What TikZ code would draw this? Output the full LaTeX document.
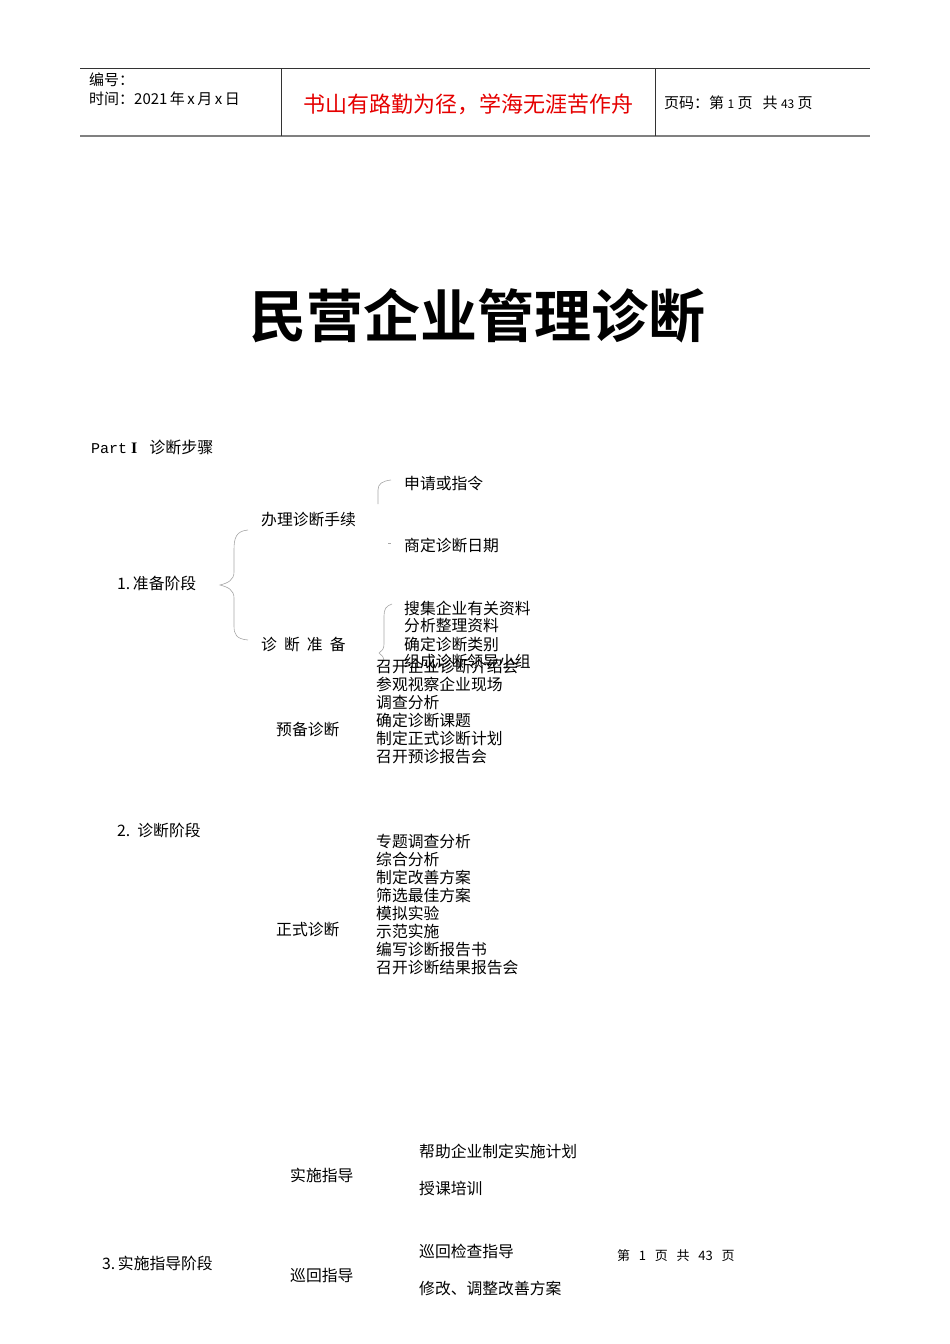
\documentclass[tikz,border=0pt]{standalone}
\usepackage{fontspec}
\setmainfont{Liberation Serif}
\newfontfamily\cjk{Noto Sans CJK SC}
\newfontfamily\cjkbold{Noto Sans CJK SC Bold}
\newfontfamily\latinmono{Liberation Mono}
\begin{document}
\begin{tikzpicture}[
		x=1pt, y=-1pt,
		every node/.style={inner sep=0pt, anchor=west},
		head/.style={font=\cjk\fontsize{15}{15}\selectfont},
		item/.style={font=\cjk\fontsize{15.8}{18}\selectfont},
		stage/.style={font=\cjk\fontsize{15.8}{18}\selectfont},
		bracket/.style={draw=gray!70, line width=0.6pt},
		rule/.style={draw=black!80, line width=0.8pt}
		]
		
		\useasboundingbox (0,0) rectangle (950,1344);
		
		% header
		\coordinate (hTL) at (80,68);
		\coordinate (hTR) at (870,68);
		\coordinate (hBL) at (80,136);
		\coordinate (hBR) at (870,136);
		\draw[rule] (hTL) -- (hTR);
		\draw[draw=gray, line width=1.6pt] (hBL) -- (hBR);
		\draw[rule] (281,68) -- (281,136);
		\draw[rule] (655,68) -- (655,136);
		\node[head] (code) at (89,80) {编号：};
		\node[head] (date) at (89,99) {时间：2021\,年\,x\,月\,x\,日};
		\node[font=\cjk\fontsize{22}{22}\selectfont, text=red!90!black, anchor=center] (motto) at (468,104) {书山有路勤为径，学海无涯苦作舟};
		\node[head] (pageno) at (664,103) {页码：第\ {\fontsize{12}{12}\selectfont 1}\ 页\ \ \ 共\ {\fontsize{12}{12}\selectfont 43}\ 页};
		
		% title
		\node[font=\cjkbold\fontsize{57}{57}\selectfont, anchor=center] (title) at (477,316) {民营企业管理诊断};
		
		\node[font=\fontsize{16}{18}\selectfont] (part) at (91,447) {{\latinmono\fontsize{15}{18}\selectfont Part}\ \textbf{I}\ \ \ {\cjk 诊断步骤}};
		
		% stage 1
		\node[stage] (s1) at (117,583) {1.\,{\cjk 准备阶段}};
		\node[stage] (procedure) at (261,520) {办理诊断手续};
		\node[stage] (prepare) at (261,645) {诊\ \ 断\ \ 准\ \ 备};
		\node[item] (apply) at (404,483) {申请或指令};
		\node[item] (fixdate) at (404,545) {商定诊断日期};
		\node[item] (collect) at (404,608) {搜集企业有关资料};
		\node[item] (analyse) at (404,626) {分析整理资料};
		\node[item] (kind) at (404,644) {确定诊断类别};
		\node[item] (group) at (404,662) {组成诊断领导小组};
		
		\coordinate (b1top) at (248,530);
		\coordinate (b1tip) at (220,585);
		\coordinate (b1bot) at (248,640);
		\draw[bracket] (b1top) .. controls (236,531) and (234,538) .. (234,550)
			-- (234,572) .. controls (234,580) and (228,583) .. (b1tip)
			.. controls (228,587) and (234,590) .. (234,598)
			-- (234,626) .. controls (234,634) and (236,639) .. (b1bot);
		\draw[bracket] (391,480) .. controls (382,481) and (378,484) .. (378,490) -- (378,504);
		\draw[bracket] (388,543) -- (391,543);
		\draw[bracket] (392,604) .. controls (386,606) and (384,609) .. (384,616)
			-- (384,644) .. controls (384,649) and (382,651) .. (379,653)
			.. controls (382,655) and (384,657) .. (384,662);
		
		% pre-diagnosis
		\node[stage] (pre) at (276,730) {预备诊断};
		\node[item, align=left, anchor=north west] (prelist) at (376,659) {召开企业诊断介绍会\\参观视察企业现场\\调查分析\\确定诊断课题\\制定正式诊断计划\\召开预诊报告会};
		
		% stage 2
		\node[stage] (s2) at (117,830) {2.\ \ {\cjk 诊断阶段}};
		\node[stage] (formal) at (276,930) {正式诊断};
		\node[item, align=left, anchor=north west] (formallist) at (376,834) {专题调查分析\\综合分析\\制定改善方案\\筛选最佳方案\\模拟实验\\示范实施\\编写诊断报告书\\召开诊断结果报告会};
		
		% stage 3
		\node[stage] (s3) at (102,1263) {3.\,{\cjk 实施指导阶段}};
		\node[stage] (guide) at (290,1175) {实施指导};
		\node[stage] (tour) at (290,1275) {巡回指导};
		\node[item] (plan) at (419,1151) {帮助企业制定实施计划};
		\node[item] (train) at (419,1188) {授课培训};
		\node[item] (check) at (419,1251) {巡回检查指导};
		\node[item] (revise) at (419,1288) {修改、调整改善方案};
		\node[font=\cjk\fontsize{13}{13}\selectfont] (footer) at (617,1256) {第\ \ \ 1\ \ \ 页\ \ \ 共\ \ \ 43\ \ \ 页};
		
	\end{tikzpicture}
\end{document}
